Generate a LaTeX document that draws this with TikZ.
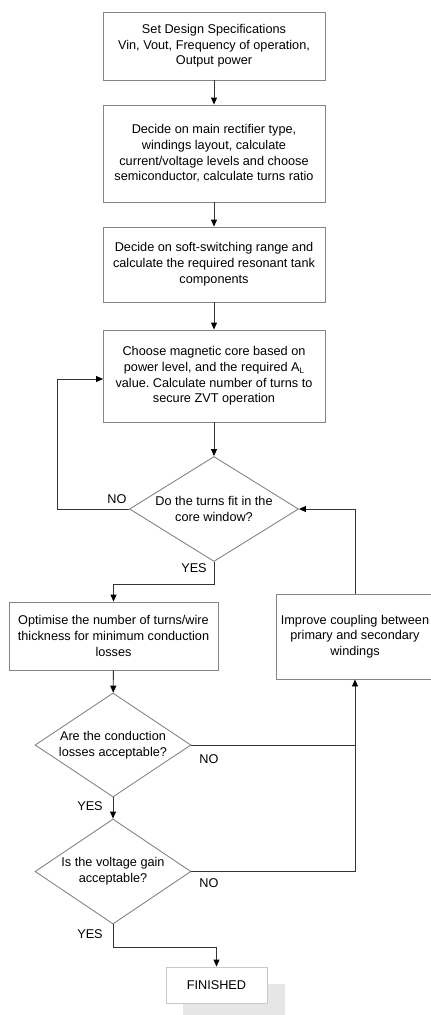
\documentclass[tikz,border=0pt]{standalone}
\usepackage{fontspec}
\setmainfont{Liberation Sans}
\usetikzlibrary{shapes.geometric,arrows.meta}
\definecolor{boxline}{HTML}{858585}
\definecolor{wire}{HTML}{333333}
\definecolor{shadowgray}{HTML}{E6E6E6}
\definecolor{endline}{HTML}{C8C8C8}
\frenchspacing
\begin{document}
\begin{tikzpicture}[x=1pt,y=-1pt,
  txt/.style={font=\fontsize{12.7}{15.7}\selectfont},
  stepbox/.style={txt,draw=boxline,line width=0.9pt,rectangle,align=center,inner sep=0pt},
  decision/.style={txt,draw=boxline,line width=0.9pt,diamond,align=center,inner sep=0pt},
  label/.style={txt,inner sep=0pt},
  wirestyle/.style={draw=wire,line width=0.9pt},
  flow/.style={wirestyle,-{Triangle[length=7pt,width=6pt,color=black]}}]
\clip (0,0) rectangle (431,1015);
\fill[white] (0,0) rectangle (431,1015);

% process boxes
\node[stepbox,minimum width=222pt,minimum height=68pt] (spec) at (214,46)
  {Set Design Specifications\\Vin, Vout, Frequency of operation,\\Output power};
\node[stepbox,minimum width=222pt,minimum height=97pt] (rect) at (214,153.5)
  {Decide on main rectifier type,\\windings layout, calculate\\current/voltage levels and choose\\semiconductor, calculate turns ratio};
\node[stepbox,minimum width=222pt,minimum height=75pt] (tank) at (214,264.5)
  {\raisebox{-3pt}{\begin{tabular}{@{}c@{}}Decide on soft-switching range and\\calculate the required resonant tank\\components\end{tabular}}};
\node[stepbox,minimum width=222pt,minimum height=92pt] (core) at (214,376)
  {Choose magnetic core based on\\power level, and the required A\raisebox{-2.5pt}{\fontsize{8}{8}\selectfont L}\\value. Calculate number of turns to\\secure ZVT operation};
\node[stepbox,minimum width=209pt,minimum height=68pt] (opt) at (113.5,636)
  {Optimise the number of turns/wire\\thickness for minimum conduction\\losses};
\node[stepbox,minimum width=158pt,minimum height=85pt] (coup) at (355,636.5)
  {Improve coupling between\\primary and secondary\\windings};

% decisions
\node[decision,minimum width=169pt,minimum height=105pt,shape aspect=1.6] (fit) at (214,509)
  {Do the turns fit in the\\core window?};
\node[decision,minimum width=156pt,minimum height=104pt,shape aspect=1.5] (loss) at (113,745)
  {Are the conduction\\losses acceptable?};
\node[decision,minimum width=156pt,minimum height=105pt,shape aspect=1.5] (gain) at (113,871.5)
  {Is the voltage gain\\acceptable?};

% end box with its shadow
\fill[shadowgray] (183,984) rectangle (285,1022);
\node[stepbox,draw=endline,fill=white,minimum width=101pt,minimum height=36pt] (done) at (216.5,985)
  {FINISHED};

% corner points of the connectors
\coordinate (noLoopA) at (57,509);
\coordinate (noLoopB) at (57,379);
\coordinate (coreIn) at (103,379);
\coordinate (yesA) at (214,584);
\coordinate (yesB) at (113.5,584);
\coordinate (rightTop) at (355,509);
\coordinate (rightLoss) at (355,745);
\coordinate (rightGain) at (355,871.5);
\coordinate (endA) at (113,947);
\coordinate (endB) at (216.5,947);

% connectors
\draw[flow] (spec) -- (rect);
\draw[flow] (rect) -- (tank);
\draw[flow] (tank) -- (core);
\draw[flow] (core) -- (fit);
\draw[flow] (fit.west) -- (noLoopA) -- (noLoopB) -- (coreIn);
\draw[flow] (fit.south) -- (yesA) -- (yesB) -- (opt.north);
\draw[flow] (opt) -- (loss);
\draw[flow] (loss.east) -- (rightLoss) -- (coup.south);
\draw[flow] (coup.north) -- (rightTop) -- (fit.east);
\draw[wirestyle] (gain.east) -- (rightGain) -- (rightLoss);
\draw[flow] (loss.south) -- (gain.north);
\draw[flow] (gain.south) -- (endA) -- (endB) -- (done.north);

% branch labels
\node[label] (noFit) at (117,499) {NO};
\node[label] (yesFit) at (194,568) {YES};
\node[label] (noLoss) at (209,759) {NO};
\node[label] (yesLoss) at (90,806) {YES};
\node[label] (noGain) at (209,883) {NO};
\node[label] (yesGain) at (90,934) {YES};
\end{tikzpicture}
\end{document}
